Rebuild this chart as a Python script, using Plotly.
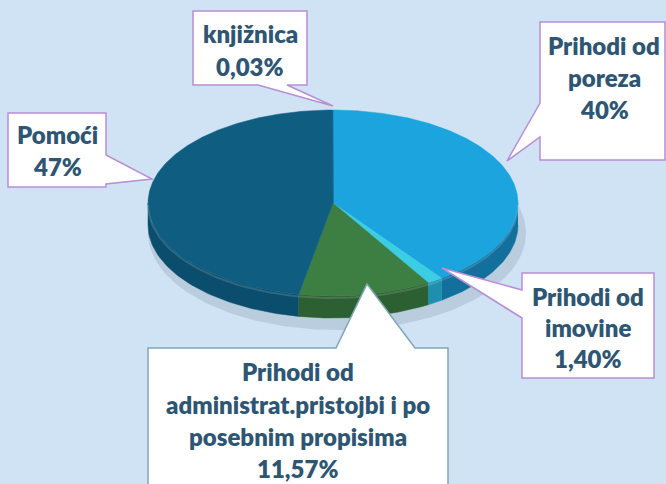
import numpy as np
import plotly.graph_objects as go

# ---- data (clockwise from 12 o'clock) ----
labels = ["Prihodi od poreza", "Prihodi od imovine",
          "Prihodi od administrat.pristojbi i po posebnim propisima",
          "Pomoći", "knjižnica"]
values = [40.0, 1.40, 11.57, 47.0, 0.03]
pct_text = ["40%", "1,40%", "11,57%", "47%", "0,03%"]
label_lines = [["Prihodi od", "poreza"], ["Prihodi od", "imovine"],
               ["Prihodi od", "administrat.pristojbi i po", "posebnim propisima"],
               ["Pomoći"], ["knjižnica"]]
top_colors = ["#1BA4DD", "#3ACDE4", "#3D7E43", "#0F5E82", "#0F5E82"]
side_colors = ["#13709C", "#1F8FB0", "#2C5F31", "#0B4D6C", "#0B4D6C"]

# ---- geometry of the tilted pie (pixel space) ----
cx, cy, rx, ry, depth = 333, 203, 185, 93, 22
BG = "rgb(208,227,244)"

def pt(t_deg, dy=0.0):
    t = np.radians(t_deg)
    return cx + rx * np.sin(t), cy - ry * np.cos(t) + dy

total = sum(values)
bounds = np.concatenate([[0], np.cumsum(values) / total * 360.0])

fig = go.Figure()

# shadow
ts = np.linspace(0, 360, 200)
fig.add_trace(go.Scatter(x=cx + 4 + (rx + 4) * np.sin(np.radians(ts)),
                         y=cy + depth + 8 - (ry + 4) * np.cos(np.radians(ts)),
                         fill="toself", fillcolor="rgba(120,140,160,0.25)",
                         line=dict(width=0), mode="lines", hoverinfo="skip", showlegend=False))

# side walls
for i in range(len(values)):
    a0, a1 = bounds[i], bounds[i + 1]
    lo, hi = max(a0, 90), min(a1, 270)
    if hi <= lo:
        continue
    t = np.linspace(lo, hi, 60)
    xs_top, ys_top = pt(t)
    xs_bot, ys_bot = pt(t[::-1], depth)
    fig.add_trace(go.Scatter(x=np.concatenate([xs_top, xs_bot]),
                             y=np.concatenate([ys_top, ys_bot]),
                             fill="toself", fillcolor=side_colors[i],
                             line=dict(width=0.5, color=side_colors[i]), mode="lines",
                             hoverinfo="skip", showlegend=False))

# top faces
for i in range(len(values)):
    a0, a1 = bounds[i], bounds[i + 1]
    t = np.linspace(a0, a1, max(3, int((a1 - a0) * 2)))
    xs, ys = pt(t)
    fig.add_trace(go.Scatter(x=np.concatenate([[cx], xs, [cx]]),
                             y=np.concatenate([[cy], ys, [cy]]),
                             fill="toself", fillcolor=top_colors[i],
                             line=dict(width=0.5, color=top_colors[i]), mode="lines",
                             name=labels[i], text=pct_text[i], hoverinfo="name+text",
                             showlegend=False))

# rim highlight on front edge
t = np.linspace(90, 270, 120)
xr, yr = pt(t, 2)
fig.add_trace(go.Scatter(x=xr, y=yr, mode="lines", line=dict(width=2, color="rgba(255,255,255,0.15)"),
                         hoverinfo="skip", showlegend=False))

# ---- callouts ----
purple = "rgb(184,142,212)"
teal = "rgb(128,166,180)"
callouts = [
    ("M540,22 L665,22 L665,160 L540,160 L540,137 L507,161 L540,103 Z", purple, 604, [45, 77, 109]),
    ("M522,273 L654,273 L654,378 L522,378 L522,318 L442,268 L522,290 Z", purple, 588, [296, 327, 358]),
    ("M148,348 L336,348 L367,284 L415,348 L448,348 L448,492 L148,492 Z", teal, 298, [371, 404, 436, 468]),
    ("M8,113 L106,113 L106,155 L152,179 L106,184 L106,187 L8,187 Z", purple, 57, [134, 166]),
    ("M193,11 L307,11 L307,85 L287,85 L333,106 L258,85 L193,85 Z", purple, 250, [33, 66]),
]
shapes = []
annotations = []
for i, (path, col, xc, ylines) in enumerate(callouts):
    shapes.append(dict(type="path", path=path, xref="x", yref="y",
                       fillcolor="white", line=dict(color=col, width=1.5), layer="above"))
    lines = label_lines[i] + [pct_text[i]]
    for txt, yy in zip(lines, ylines):
        annotations.append(dict(x=xc, y=yy, xref="x", yref="y", text=txt, showarrow=False,
                                font=dict(family="Lato", size=24, color="#2E5673", weight=800),
                                xanchor="center", yanchor="middle"))

fig.update_layout(
    width=666, height=484, margin=dict(l=0, r=0, t=0, b=0),
    paper_bgcolor=BG, plot_bgcolor=BG,
    xaxis=dict(range=[0, 666], visible=False, fixedrange=True),
    yaxis=dict(range=[484, 0], visible=False, fixedrange=True),
    shapes=shapes, annotations=annotations, showlegend=False,
)
fig.write_html("out.html")
